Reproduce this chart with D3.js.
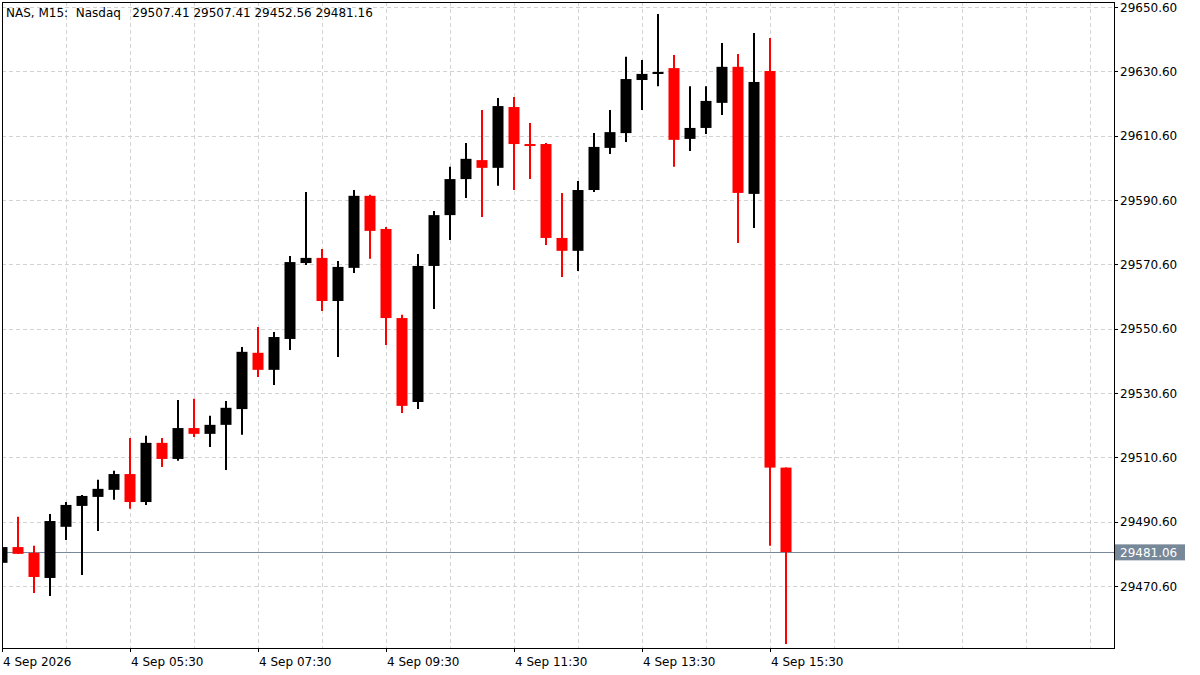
<!DOCTYPE html>
<html><head><meta charset="utf-8">
<script src="https://cdn.jsdelivr.net/npm/d3@7"></script>
<style>body{margin:0;background:#fff}svg{display:block}text{font-family:"DejaVu Sans",sans-serif;font-size:12px;white-space:pre}</style>
</head><body><svg id="c" width="1200" height="675"></svg>
<script>
const title = "NAS, M15:  Nasdaq   29507.41 29507.41 29452.56 29481.16";
const open  = [29477.8,29482.7,29480.9,29473.1,29489.0,29495.5,29498.3,29500.5,29505.4,29496.7,29515.1,29510.1,29519.7,29517.9,29520.7,29525.6,29543.1,29537.8,29547.4,29571.0,29572.6,29559.2,29569.5,29591.9,29581.6,29553.9,29527.8,29570.1,29585.9,29597.1,29603.0,29600.6,29619.5,29608.0,29608.0,29578.8,29574.8,29593.7,29606.8,29611.4,29627.9,29629.8,29631.6,29609.6,29613.0,29620.8,29632.0,29592.5,29630.7,29507.41];
const high  = [29483.5,29492.1,29483.1,29493.0,29496.7,29498.9,29503.6,29506.4,29516.6,29517.3,29516.6,29528.4,29528.8,29523.5,29528.1,29544.9,29551.1,29549.6,29573.2,29593.1,29575.4,29571.6,29593.7,29592.2,29582.2,29554.9,29573.8,29587.2,29600.9,29608.3,29618.6,29622.3,29622.6,29614.5,29608.3,29592.8,29596.5,29611.4,29618.6,29635.1,29634.1,29648.4,29635.7,29626.0,29626.0,29639.4,29636.0,29642.5,29641.0,29507.41];
const low   = [29476.9,29480.6,29468.4,29467.5,29484.9,29474.0,29487.7,29497.4,29494.6,29495.8,29507.6,29509.5,29516.9,29513.8,29506.7,29517.6,29535.6,29533.1,29544.0,29570.4,29556.1,29541.8,29567.9,29572.3,29545.5,29524.4,29525.6,29556.7,29578.2,29591.2,29585.3,29595.0,29593.7,29597.1,29576.6,29566.7,29568.5,29593.1,29604.9,29608.6,29618.6,29626.0,29600.9,29605.8,29611.1,29617.0,29577.2,29581.9,29483.1,29452.56];
const close = [29482.7,29480.6,29473.4,29490.8,29495.8,29498.6,29500.8,29505.4,29496.7,29515.1,29510.1,29519.7,29517.9,29520.7,29526.0,29543.4,29537.8,29548.0,29571.3,29572.6,29559.2,29569.8,29591.9,29581.0,29553.9,29526.6,29570.1,29585.9,29597.1,29603.4,29600.6,29619.8,29608.0,29607.4,29578.8,29574.8,29593.7,29607.1,29611.7,29628.2,29629.8,29630.4,29609.3,29613.0,29621.4,29632.0,29592.8,29627.3,29507.41,29481.16];
const yTicks = [29470.6,29490.6,29510.6,29530.6,29550.6,29570.6,29590.6,29610.6,29630.6,29650.6];
const timeLabels = [[0,"4 Sep 2026"],[8,"4 Sep 05:30"],[16,"4 Sep 07:30"],[24,"4 Sep 09:30"],[32,"4 Sep 11:30"],[40,"4 Sep 13:30"],[48,"4 Sep 15:30"]];
const lastPrice = 29481.06;

const svg = d3.select("#c");
const L=2,R=1114,T=2,B=648;
const y = d3.scaleLinear().domain([29470.6,29650.6]).range([586,7]);
const x = d3.scaleLinear().domain([0,1]).range([2,18]);
svg.append("defs").append("clipPath").attr("id","cp").append("rect").attr("x",L).attr("y",T).attr("width",R-L).attr("height",B-T);
const g = svg.append("g").attr("clip-path","url(#cp)");
yTicks.forEach(v=>g.append("line").attr("x1",L).attr("x2",R).attr("y1",Math.round(y(v))+.5).attr("y2",Math.round(y(v))+.5).attr("stroke","#d3d3d3").attr("stroke-dasharray","4,3"));
d3.range(4,70,4).forEach(i=>g.append("line").attr("x1",x(i)+.5).attr("x2",x(i)+.5).attr("y1",T).attr("y2",B).attr("stroke","#d3d3d3").attr("stroke-dasharray","4,3"));
g.append("line").attr("x1",L).attr("x2",R).attr("y1",Math.round(y(lastPrice))+.5).attr("y2",Math.round(y(lastPrice))+.5).attr("stroke","#778899");
open.forEach((o,i)=>{
  const c=close[i], col = c>=o ? "#000" : "#ff0000", cx=x(i);
  g.append("line").attr("x1",cx).attr("x2",cx).attr("y1",y(high[i])).attr("y2",y(low[i])).attr("stroke",col).attr("stroke-width",2);
  const t=y(Math.max(o,c)), b=y(Math.min(o,c));
  g.append("rect").attr("x",cx-5.5).attr("width",11).attr("y",t).attr("height",Math.max(2,b-t)).attr("fill",col);
});
svg.append("rect").attr("x",L+.5).attr("y",T+.5).attr("width",R-L).attr("height",B-T).attr("fill","none").attr("stroke","#000");
yTicks.forEach(v=>{
  svg.append("line").attr("x1",R).attr("x2",R+4).attr("y1",Math.round(y(v))+.5).attr("y2",Math.round(y(v))+.5).attr("stroke","#000");
  svg.append("text").attr("x",1120).attr("y",y(v)+4.5).text(v.toFixed(2));
});
const ly=y(lastPrice);
svg.append("rect").attr("x",R+1).attr("y",ly-8).attr("width",70).attr("height",16).attr("fill","#778899");
svg.append("text").attr("x",1120).attr("y",ly+4.5).attr("fill","#fff").text(lastPrice.toFixed(2));
timeLabels.forEach(([i,s])=>{
  svg.append("line").attr("x1",x(i)+.5).attr("x2",x(i)+.5).attr("y1",B).attr("y2",B+4).attr("stroke","#000");
  svg.append("text").attr("x",x(i)+1).attr("y",666).text(s);
});
svg.append("text").attr("x",6).attr("y",17).attr("xml:space","preserve").text(title);
</script></body></html>
